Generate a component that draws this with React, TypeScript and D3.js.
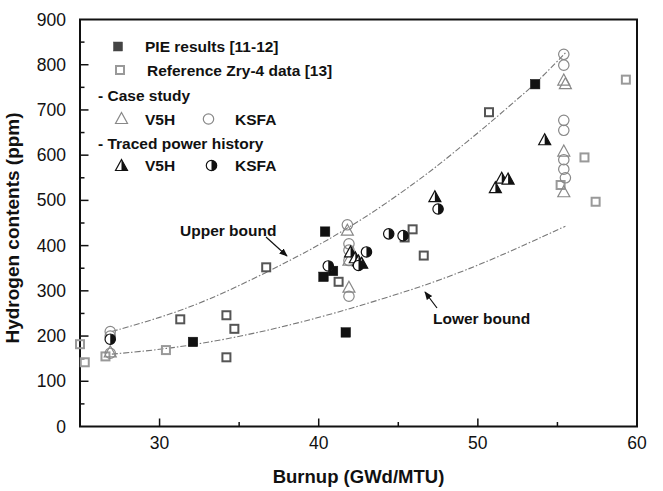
import React from "react";
import * as d3 from "d3";

const xTicks = [30, 40, 50, 60];
const yTicks = [0, 100, 200, 300, 400, 500, 600, 700, 800, 900];

const pieResults: [number, number][] = [
  [32.1, 187], [40.4, 431], [40.3, 331], [40.9, 344], [41.7, 208], [53.6, 757],
];
const refZryLight: [number, number][] = [
  [25.0, 182], [25.3, 142], [26.6, 155], [30.4, 169], [55.2, 534], [56.7, 595], [57.4, 497], [59.3, 767],
];
const refZryDark: [number, number][] = [
  [31.3, 237], [34.2, 246], [34.7, 216], [34.2, 153], [36.7, 352], [41.25, 320],
  [45.4, 418], [45.9, 436], [46.6, 378], [50.7, 695],
];
const caseV5H: [number, number][] = [
  [26.9, 164], [41.8, 433], [41.9, 367], [41.9, 307], [55.4, 765], [55.5, 757], [55.4, 608], [55.4, 518],
];
const caseKSFA: [number, number][] = [
  [26.9, 210], [26.9, 200], [26.9, 162], [41.8, 446], [41.9, 404], [41.9, 390], [41.9, 367], [41.9, 288],
  [55.4, 823], [55.4, 799], [55.4, 677], [55.4, 655], [55.4, 590], [55.4, 569], [55.5, 550],
];
const tracedV5H: [number, number][] = [
  [42.0, 385], [42.3, 372], [42.5, 365], [42.7, 360], [47.3, 507], [51.1, 527], [51.5, 548], [51.9, 546], [54.2, 633],
];
const tracedKSFA: [number, number][] = [
  [26.9, 193], [40.6, 355], [42.5, 356], [43.0, 386], [44.4, 426], [45.3, 422], [47.5, 481],
];
const upperBound: [number, number][] = [
  [27, 210], [30, 240], [33, 278], [36.7, 340], [40, 400], [43.3, 470], [46.1, 540],
  [47.6, 580], [50.9, 675], [52.5, 725], [53.6, 757], [55.5, 826],
];
const lowerBound: [number, number][] = [
  [27, 160], [30.4, 171], [34.1, 192], [37.5, 218], [41, 250], [45, 293], [47.5, 322], [51, 370], [55.5, 443],
];

const W = 663, H = 491;
const L = 80, R = 637, T = 19.5, B = 426.5;
const FONT = "'Liberation Sans', Arial, Helvetica, sans-serif";

const x = d3.scaleLinear().domain([25, 60]).range([L, R]);
const y = d3.scaleLinear().domain([0, 900]).range([B, T]);

const line = d3.line<[number, number]>().x(d => x(d[0])).y(d => y(d[1])).curve(d3.curveBasis);

const triPath = "M0,-6.5L6,4.5L-6,4.5Z";
const triRight = "M0,-6.5L6,4.5L0,4.5Z";
const halfCircle = (r: number) => `M0,${-r}A${r},${r} 0 0,1 0,${r}Z`;

const Square = ({ cx, cy, fill, stroke, sw, s }: any) => (
  <rect x={cx - s / 2} y={cy - s / 2} width={s} height={s} fill={fill} stroke={stroke} strokeWidth={sw} />
);
const Tri = ({ cx, cy, half }: any) => (
  <g transform={`translate(${cx},${cy})`}>
    <path d={triPath} fill="white" fillOpacity={half ? 1 : 0} stroke={half ? "#111" : "#888"} strokeWidth={1.2} />
    {half && <path d={triRight} fill="#111" />}
  </g>
);
const Circ = ({ cx, cy, half }: any) => (
  <g transform={`translate(${cx},${cy})`}>
    <circle r={5.2} fill="white" fillOpacity={half ? 1 : 0} stroke={half ? "#111" : "#888"} strokeWidth={1.2} />
    {half && <path d={halfCircle(5.2)} fill="#111" />}
  </g>
);

export default function App() {
  const xMinor = [35, 45, 55];
  const yMinor = d3.range(50, 900, 100);
  const bold = { fontFamily: FONT, fontWeight: 700 as const, fill: "#111" };
  return (
    <svg width={W} height={H} style={{ position: "absolute", left: 0, top: 0, background: "white" }}>
      <defs>
        <marker id="ah" viewBox="0 0 10 10" refX="9" refY="5" markerWidth="7" markerHeight="7" orient="auto">
          <path d="M0,1L10,5L0,9Z" fill="#111" />
        </marker>
      </defs>
      <rect x={0} y={0} width={W} height={H} fill="white" />
      {/* bounds */}
      <path d={line(upperBound) || ""} fill="none" stroke="#777" strokeWidth={1.1} strokeDasharray="6,2,1.5,2" />
      <path d={line(lowerBound) || ""} fill="none" stroke="#777" strokeWidth={1.1} strokeDasharray="6,2,1.5,2" />

      {/* ticks */}
      {xTicks.filter(t => t < 60).map(t => (
        <line key={"xt" + t} x1={x(t)} x2={x(t)} y1={B} y2={B - 8} stroke="#111" strokeWidth={1.5} />
      ))}
      {xMinor.map(t => (
        <line key={"xm" + t} x1={x(t)} x2={x(t)} y1={B} y2={B - 4.5} stroke="#111" strokeWidth={1.5} />
      ))}
      {yTicks.filter(t => t > 0 && t < 900).map(t => (
        <line key={"yt" + t} x1={L} x2={L + 8.5} y1={y(t)} y2={y(t)} stroke="#111" strokeWidth={1.5} />
      ))}
      {yMinor.map(t => (
        <line key={"ym" + t} x1={L} x2={L + 4.5} y1={y(t)} y2={y(t)} stroke="#111" strokeWidth={1.5} />
      ))}
      <rect x={L} y={T} width={R - L} height={B - T} fill="none" stroke="#111" strokeWidth={2} />

      {/* tick labels */}
      {xTicks.map(t => (
        <text key={"xl" + t} x={x(t)} y={449} textAnchor="middle" fontFamily={FONT} fontSize={17.5} fill="#111">{t}</text>
      ))}
      {yTicks.map(t => (
        <text key={"yl" + t} x={L - 14} y={y(t) + 6} textAnchor="end" fontFamily={FONT} fontSize={17.5} fill="#111">{t}</text>
      ))}
      <text x={(L + R) / 2} y={483} textAnchor="middle" fontSize={18.5} {...bold}>Burnup (GWd/MTU)</text>
      <text transform={`translate(19,${(T + B) / 2 + 5}) rotate(-90)`} textAnchor="middle" fontSize={19} {...bold}>Hydrogen contents (ppm)</text>

      {/* data */}
      {refZryLight.map((d, i) => <Square key={"rl" + i} cx={x(d[0])} cy={y(d[1])} s={8} fill="none" stroke="#999" sw={2} />)}
      {refZryDark.map((d, i) => <Square key={"rd" + i} cx={x(d[0])} cy={y(d[1])} s={8} fill="none" stroke="#555" sw={2} />)}
      {caseV5H.map((d, i) => <Tri key={"cv" + i} cx={x(d[0])} cy={y(d[1])} />)}
      {caseKSFA.map((d, i) => <Circ key={"ck" + i} cx={x(d[0])} cy={y(d[1])} />)}
      {pieResults.map((d, i) => <Square key={"p" + i} cx={x(d[0])} cy={y(d[1])} s={9.5} fill="#111" stroke="#111" sw={0.5} />)}
      {tracedV5H.map((d, i) => <Tri key={"tv" + i} cx={x(d[0])} cy={y(d[1])} half />)}
      {tracedKSFA.map((d, i) => <Circ key={"tk" + i} cx={x(d[0])} cy={y(d[1])} half />)}

      {/* annotations */}
      <text x={180} y={236} fontSize={15.5} {...bold}>Upper bound</text>
      <line x1={266} y1={237} x2={287} y2={256} stroke="#111" strokeWidth={1.2} markerEnd="url(#ah)" />
      <text x={433} y={324} fontSize={15.5} {...bold}>Lower bound</text>
      <line x1={437} y1={308} x2={425} y2={292} stroke="#111" strokeWidth={1.2} markerEnd="url(#ah)" />

      {/* legend */}
      <Square cx={118} cy={46.5} s={9} fill="#444" stroke="#444" sw={0.5} />
      <text x={145} y={52} fontSize={15.5} {...bold}>PIE results [11-12]</text>
      <Square cx={120} cy={70} s={8} fill="none" stroke="#999" sw={2} />
      <text x={147} y={76} fontSize={15.5} {...bold}>Reference Zry-4 data [13]</text>
      <text x={98} y={100.5} fontSize={15.5} {...bold}>- Case study</text>
      <Tri cx={121.5} cy={119} />
      <text x={145} y={124.5} fontSize={15.5} {...bold}>V5H</text>
      <Circ cx={208.5} cy={119} />
      <text x={235} y={124.5} fontSize={15.5} {...bold}>KSFA</text>
      <text x={98} y={148.5} fontSize={15.5} {...bold}>- Traced power history</text>
      <Tri cx={121.5} cy={166} half />
      <text x={145} y={171} fontSize={15.5} {...bold}>V5H</text>
      <Circ cx={211.5} cy={165.5} half />
      <text x={235} y={171} fontSize={15.5} {...bold}>KSFA</text>
    </svg>
  );
}
